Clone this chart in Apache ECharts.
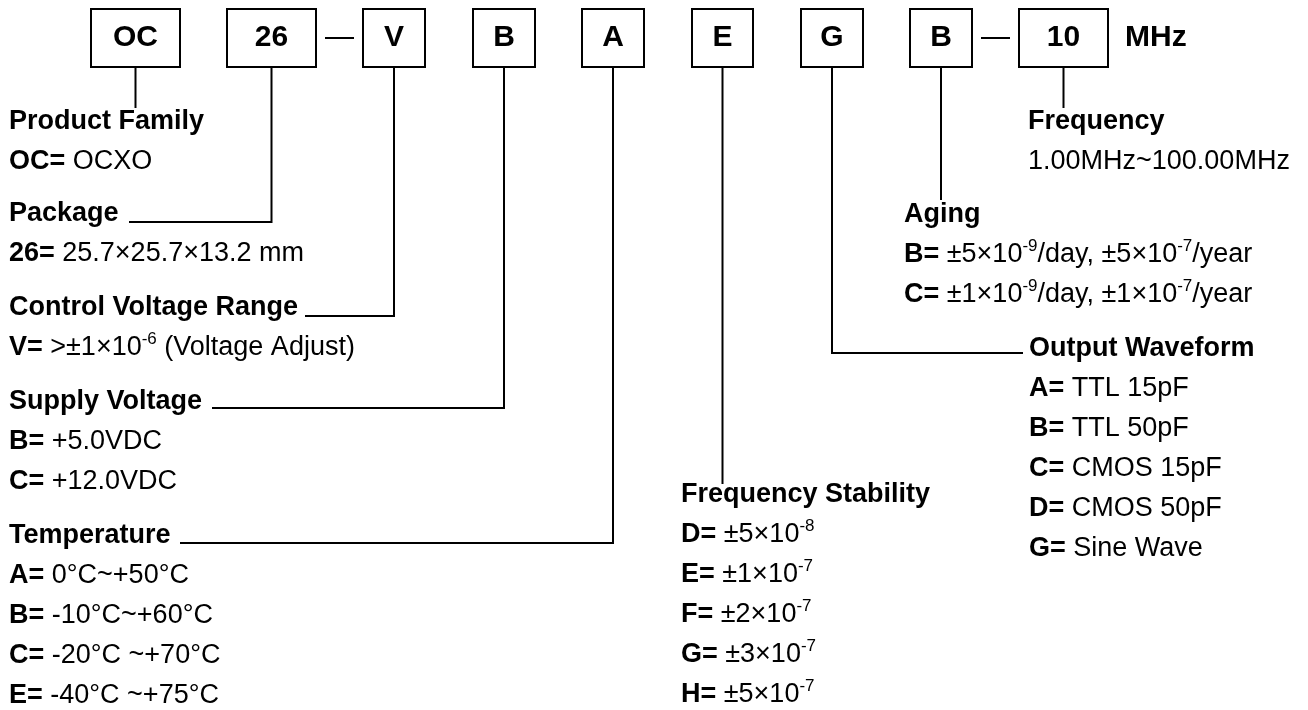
<!DOCTYPE html>
<html lang="en">
<head>
<meta charset="UTF-8">
<title>OCXO 型号说明</title>
<script src="https://cdn.jsdelivr.net/npm/echarts@6/dist/echarts.min.js"></script>
<style>
    html, body { margin: 0; padding: 0; background: #fff; }
    #main { width: 1308px; height: 710px; }
</style>
</head>
<body>
<div id="main"></div>
<script>
    // part number fields, left to right
    const codes = ['OC', '26', 'V', 'B', 'A', 'E', 'G', 'B', '10'];
    const unitLabel = 'MHz';
    // boxes followed by a dash
    const dashAfter = [1, 7];

    const titles = ['Product Family', 'Package', 'Control Voltage Range', 'Supply Voltage',
        'Temperature', 'Frequency Stability', 'Output Waveform', 'Aging', 'Frequency'];

    // option lines of each field: [key, text], ^n = superscript
    const familyOpts = [['OC', 'OCXO']];
    const packageOpts = [['26', '25.7×25.7×13.2 mm']];
    const controlOpts = [['V', '>±1×10^-6 (Voltage Adjust)']];
    const supplyOpts = [['B', '+5.0VDC'], ['C', '+12.0VDC']];
    const tempOpts = [['A', '0°C~+50°C'], ['B', '-10°C~+60°C'], ['C', '-20°C ~+70°C'], ['E', '-40°C ~+75°C']];
    const stabilityOpts = [['D', '±5×10^-8'], ['E', '±1×10^-7'], ['F', '±2×10^-7'], ['G', '±3×10^-7'], ['H', '±5×10^-7']];
    const waveformOpts = [['A', 'TTL 15pF'], ['B', 'TTL 50pF'], ['C', 'CMOS 15pF'], ['D', 'CMOS 50pF'], ['G', 'Sine Wave']];
    const agingOpts = [['B', '±5×10^-9/day, ±5×10^-7/year'], ['C', '±1×10^-9/day, ±1×10^-7/year']];
    const frequencyOpts = [[null, '1.00MHz~100.00MHz']];

    const options = [familyOpts, packageOpts, controlOpts, supplyOpts, tempOpts,
        stabilityOpts, waveformOpts, agingOpts, frequencyOpts];

    // ---- layout (px, same as axis units) ----
    const boxLeft = [91, 227, 363, 473, 582, 692, 801, 910, 1019];
    const boxWidth = [89, 89, 62, 62, 62, 61, 62, 62, 89];
    const boxTop = 9, boxBottom = 67;
    const titleX = [9, 9, 9, 9, 9, 681, 1029, 904, 1028];
    const titleY = [122, 214, 308, 402, 536, 495, 349, 215, 122];
    const leaderY = [108, 222, 316, 408, 543, 484, 353, 200, 108];
    const leaderEndX = [null, 129, 305, 212, 180, null, 1023, null, null];
    const rowGap = 40;

    const FONT = 'Liberation Sans, Arial, Helvetica, sans-serif';
    const TXT = 27;

    let myChart = echarts.init(document.getElementById('main'));

    function sup(s) {
        return s.replace(/\^(-?\d+)/g, '{s|$1}');
    }

    // text rows
    let rows = [];
    titles.forEach(function (t, i) {
        rows.push({x: titleX[i], y: titleY[i], text: '{b|' + t + '}'});
        options[i].forEach(function (o, k) {
            let txt = (o[0] ? '{b|' + o[0] + '=} ' : '') + sup(o[1]);
            rows.push({x: titleX[i], y: titleY[i] + rowGap * (k + 1), text: txt});
        });
    });

    const rich = {
        b: {fontFamily: FONT, fontSize: TXT, fontWeight: 'bold', lineHeight: 34, fill: '#000'},
        s: {fontFamily: FONT, fontSize: 17, lineHeight: 17, verticalAlign: 'top', fill: '#000'}
    };

    option = {
        animation: false,
        backgroundColor: '#fff',
        grid: {left: 0, right: 0, top: 0, bottom: 0},
        xAxis: {type: 'value', min: 0, max: 1308, show: false},
        yAxis: {type: 'value', min: 0, max: 710, inverse: true, show: false},
        series: [
            // code boxes
            {
                type: 'custom',
                coordinateSystem: 'cartesian2d',
                data: codes.map(function (c, i) { return [boxLeft[i], boxTop]; }),
                renderItem: function (params, api) {
                    let i = params.dataIndex;
                    let p0 = api.coord([boxLeft[i], boxTop]);
                    let p1 = api.coord([boxLeft[i] + boxWidth[i], boxBottom]);
                    let children = [{
                        type: 'rect',
                        shape: {x: p0[0], y: p0[1], width: p1[0] - p0[0], height: p1[1] - p0[1]},
                        style: {fill: '#fff', stroke: '#000', lineWidth: 2}
                    }, {
                        type: 'text',
                        x: (p0[0] + p1[0]) / 2,
                        y: (p0[1] + p1[1]) / 2,
                        style: {
                            text: codes[i], fill: '#000', fontFamily: FONT, fontSize: 30, fontWeight: 'bold',
                            align: 'center', verticalAlign: 'middle'
                        }
                    }];
                    let midY = (p0[1] + p1[1]) / 2;
                    if (dashAfter.indexOf(i) >= 0) {
                        let n0 = api.coord([boxLeft[i + 1], boxTop]);
                        children.push({
                            type: 'line',
                            shape: {x1: p1[0] + 9, y1: midY, x2: n0[0] - 9, y2: midY},
                            style: {stroke: '#000', lineWidth: 2}
                        });
                    }
                    if (i === codes.length - 1) {
                        children.push({
                            type: 'text',
                            x: p1[0] + 17,
                            y: midY,
                            style: {
                                text: unitLabel, fill: '#000', fontFamily: FONT, fontSize: 30, fontWeight: 'bold',
                                align: 'left', verticalAlign: 'middle'
                            }
                        });
                    }
                    return {type: 'group', children: children};
                }
            },
            // leader lines
            {
                type: 'custom',
                coordinateSystem: 'cartesian2d',
                data: codes.map(function (c, i) { return [boxLeft[i], boxBottom]; }),
                renderItem: function (params, api) {
                    let i = params.dataIndex;
                    let cx = boxLeft[i] + boxWidth[i] / 2;
                    let pts = [api.coord([cx, boxBottom]), api.coord([cx, leaderY[i]])];
                    if (leaderEndX[i] !== null) pts.push(api.coord([leaderEndX[i], leaderY[i]]));
                    return {
                        type: 'polyline',
                        shape: {points: pts},
                        style: {stroke: '#000', lineWidth: 2, fill: null}
                    };
                }
            },
            // descriptions
            {
                type: 'custom',
                coordinateSystem: 'cartesian2d',
                data: rows.map(function (r) { return [r.x, r.y]; }),
                renderItem: function (params, api) {
                    let r = rows[params.dataIndex];
                    let p = api.coord([r.x, r.y]);
                    return {
                        type: 'text',
                        x: p[0],
                        y: p[1],
                        style: {
                            text: r.text, rich: rich, fill: '#000', fontFamily: FONT, fontSize: TXT,
                            lineHeight: 34, align: 'left', verticalAlign: 'middle'
                        }
                    };
                }
            }
        ]
    };
    myChart.setOption(option);
</script>
</body>
</html>
